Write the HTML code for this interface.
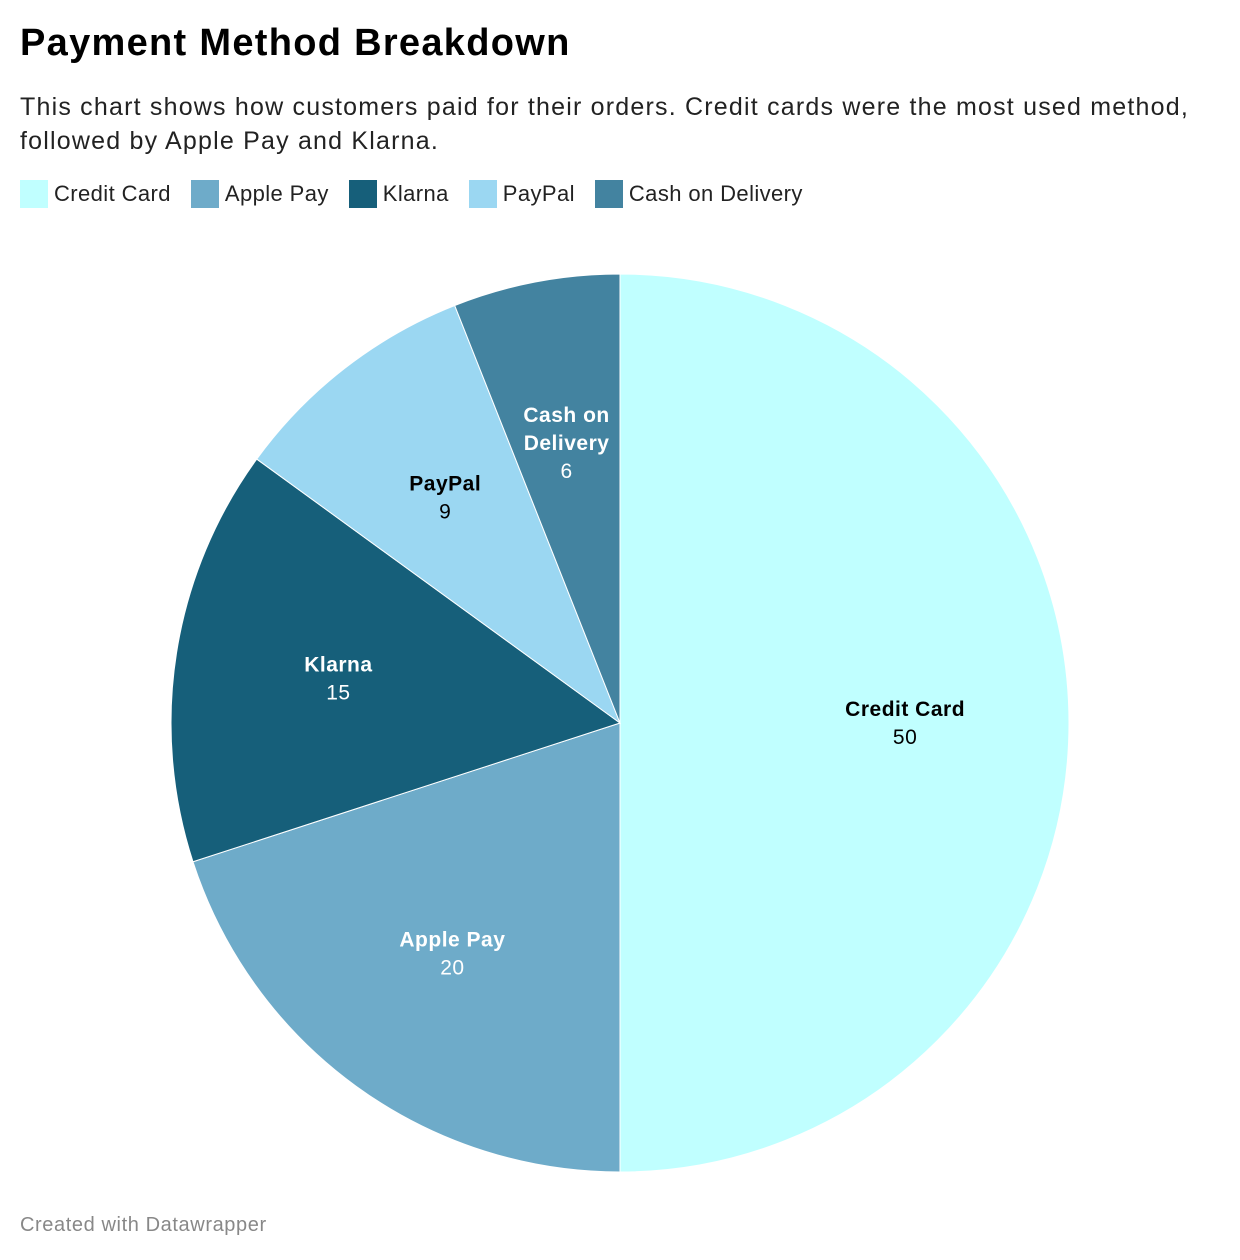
<!DOCTYPE html>
<html><head><meta charset="utf-8">
<style>
body{margin:0;background:#fff;font-family:"Liberation Sans",sans-serif;width:1240px;height:1260px;overflow:hidden;position:relative}
h1{position:absolute;left:20px;top:22px;margin:0;font-size:38px;font-weight:bold;color:#000;letter-spacing:1.3px}
.sub{position:absolute;left:20px;top:90px;font-size:25px;line-height:34px;color:#222;width:1230px;letter-spacing:1.2px;white-space:nowrap}
.legend{position:absolute;left:20px;top:180px;display:flex;font-size:22px;color:#222;letter-spacing:0.4px}
.li{display:flex;align-items:center;margin-right:20px}
.sw{width:28px;height:28px;margin-right:6px}
.foot{position:absolute;left:20px;top:1214px;font-size:20px;color:#888;letter-spacing:0.6px}
</style></head><body>
<h1>Payment Method Breakdown</h1>
<div class="sub">This chart shows how customers paid for their orders. Credit cards were the most used method,<br>followed by Apple Pay and Klarna.</div>
<div class="legend" id="legend"></div>
<svg id="pie" width="1240" height="1260" style="position:absolute;left:0;top:0"></svg>
<div class="foot">Created with Datawrapper</div>
<script>
const categories=["Credit Card","Apple Pay","Klarna","PayPal","Cash on Delivery"];
const values=[50,20,15,9,6];
const colors=["#c0ffff","#6eabc9","#165f7a","#9bd7f2","#4383a0"];
const textColors=["#000","#fff","#fff","#000","#fff"];
const NS="http://www.w3.org/2000/svg";
const svg=document.getElementById('pie');
const cx=620,cy=723,r=449;
const total=values.reduce((a,b)=>a+b,0);
function pt(a,rad){return [cx+rad*Math.sin(a),cy-rad*Math.cos(a)];}
let acc=0;
const leg=document.getElementById('legend');
categories.forEach((c,i)=>{
  const a0=acc/total*2*Math.PI;acc+=values[i];const a1=acc/total*2*Math.PI;
  const p0=pt(a0,r),p1=pt(a1,r);
  const path=document.createElementNS(NS,'path');
  path.setAttribute('d',`M${cx},${cy}L${p0[0]},${p0[1]}A${r},${r} 0 ${a1-a0>Math.PI?1:0} 1 ${p1[0]},${p1[1]}Z`);
  path.setAttribute('fill',colors[i]);path.setAttribute('stroke','#fff');path.setAttribute('stroke-width','1');
  
  
  svg.appendChild(path);
  const am=(a0+a1)/2;const lp=pt(am,r*0.635);
  const words=c==="Cash on Delivery"?["Cash on","Delivery"]:[c];
  const t=document.createElementNS(NS,'text');
  t.setAttribute('text-anchor','middle');t.setAttribute('fill',textColors[i]);t.setAttribute('font-size','21');
  t.setAttribute('letter-spacing','0.5');
  
  
  const startY=lp[1]-(words.length)*14+7;
  words.forEach((w,j)=>{const s=document.createElementNS(NS,'tspan');s.setAttribute('x',lp[0]);s.setAttribute('y',startY+j*28);s.setAttribute('font-weight','bold');s.textContent=w;t.appendChild(s);});
  const v=document.createElementNS(NS,'tspan');v.setAttribute('x',lp[0]);v.setAttribute('y',startY+words.length*28);v.textContent=values[i];t.appendChild(v);
  svg.appendChild(t);
  const li=document.createElement('div');li.className='li';
  
  
  li.innerHTML=`<div class="sw" style="background:${colors[i]}"></div><span>${c}</span>`;
  leg.appendChild(li);
});
</script>
</body></html>
